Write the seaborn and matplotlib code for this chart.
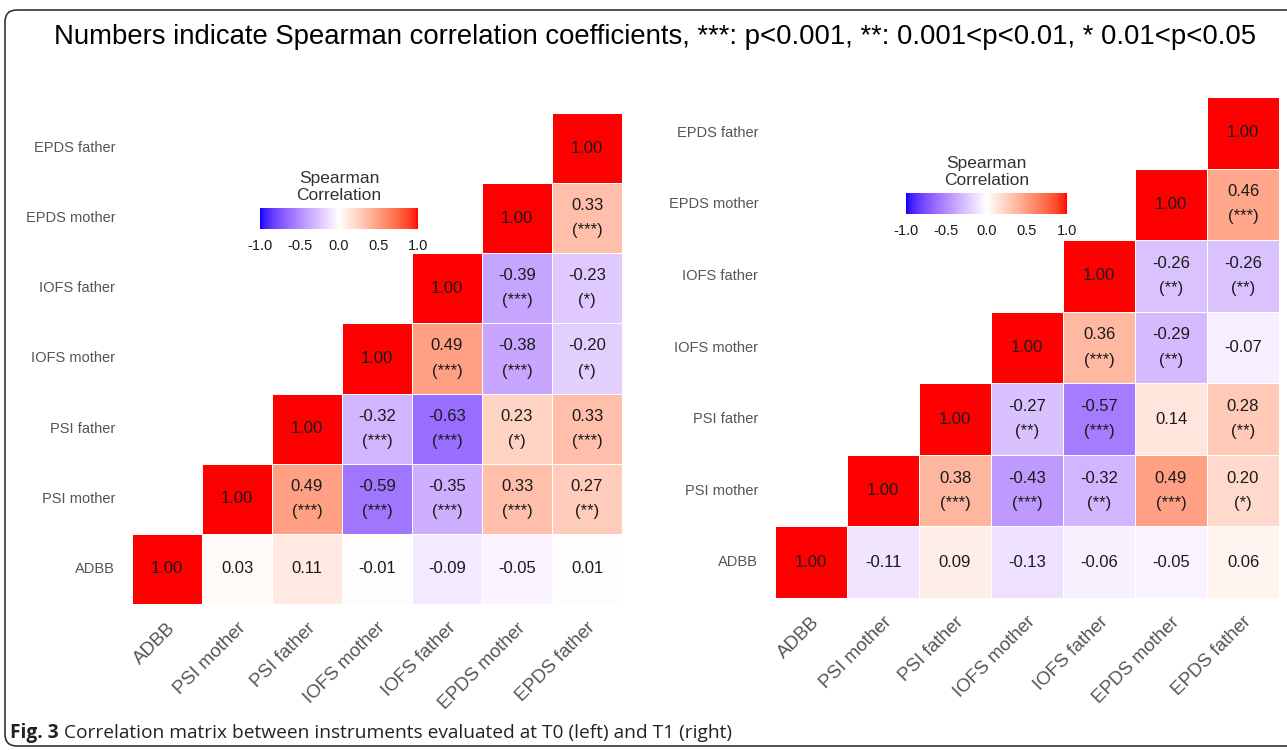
import numpy as np
import pandas as pd
import matplotlib
matplotlib.use("Agg")
import matplotlib.pyplot as plt
import seaborn as sns
from matplotlib.colors import ListedColormap
from matplotlib.patches import FancyBboxPatch
from matplotlib.transforms import IdentityTransform

# instruments, bottom-to-top on y and left-to-right on x
labels = ["ADBB", "PSI mother", "PSI father", "IOFS mother",
          "IOFS father", "EPDS mother", "EPDS father"]

# upper triangle, one list per row starting at the diagonal
t0_rho = [
    [1.00, 0.03, 0.11, -0.01, -0.09, -0.05, 0.01],
    [1.00, 0.49, -0.59, -0.35, 0.33, 0.27],
    [1.00, -0.32, -0.63, 0.23, 0.33],
    [1.00, 0.49, -0.38, -0.20],
    [1.00, -0.39, -0.23],
    [1.00, 0.33],
    [1.00],
]
t0_sig = [
    ["", "", "", "", "", "", ""],
    ["", "***", "***", "***", "***", "**"],
    ["", "***", "***", "*", "***"],
    ["", "***", "***", "*"],
    ["", "***", "*"],
    ["", "***"],
    [""],
]

t1_rho = [
    [1.00, -0.11, 0.09, -0.13, -0.06, -0.05, 0.06],
    [1.00, 0.38, -0.43, -0.32, 0.49, 0.20],
    [1.00, -0.27, -0.57, 0.14, 0.28],
    [1.00, 0.36, -0.29, -0.07],
    [1.00, -0.26, -0.26],
    [1.00, 0.46],
    [1.00],
]
t1_sig = [
    ["", "", "", "", "", "", ""],
    ["", "***", "***", "**", "***", "*"],
    ["", "**", "***", "", "**"],
    ["", "***", "**", ""],
    ["", "**", "**"],
    ["", "***"],
    [""],
]

title = ("Numbers indicate Spearman correlation coefficients, ***: p<0.001, "
         "**: 0.001<p<0.01, * 0.01<p<0.05")
caption_bold = "Fig. 3"
caption_rest = " Correlation matrix between instruments evaluated at T0 (left) and T1 (right)"


# blue - white - red gradient interpolated in Lab space (like ggplot's gradient2)
def to_lab(rgb):
    c = np.asarray(rgb, float)
    c = np.where(c <= 0.04045, c / 12.92, ((c + 0.055) / 1.055) ** 2.4)
    m = np.array([[0.4124, 0.3576, 0.1805],
                  [0.2126, 0.7152, 0.0722],
                  [0.0193, 0.1192, 0.9505]])
    xyz = m @ c / np.array([0.95047, 1.0, 1.08883])
    f = np.where(xyz > 0.008856, np.cbrt(xyz), 7.787 * xyz + 16 / 116)
    return np.array([116 * f[1] - 16, 500 * (f[0] - f[1]), 200 * (f[1] - f[2])])


def from_lab(lab):
    L, a, b = lab
    fy = (L + 16) / 116
    f = np.array([fy + a / 500, fy, fy - b / 200])
    xyz = np.where(f ** 3 > 0.008856, f ** 3, (f - 16 / 116) / 7.787)
    xyz = xyz * np.array([0.95047, 1.0, 1.08883])
    m = np.array([[3.2406, -1.5372, -0.4986],
                  [-0.9689, 1.8758, 0.0415],
                  [0.0557, -0.2040, 1.0570]])
    c = m @ xyz
    c = np.where(c <= 0.0031308, 12.92 * c, 1.055 * np.clip(c, 0, None) ** (1 / 2.4) - 0.055)
    return np.clip(c, 0, 1)


lab_blue, lab_white, lab_red = to_lab([0, 0, 1]), to_lab([1, 1, 1]), to_lab([1, 0, 0])
cols = []
for t in np.linspace(-1, 1, 256):
    if t < 0:
        lab = lab_white + (lab_blue - lab_white) * (-t)
    else:
        lab = lab_white + (lab_red - lab_white) * t
    cols.append(from_lab(lab))
cmap = ListedColormap(cols)


def build(rho, sig):
    n = len(labels)
    vals = np.full((n, n), np.nan)
    txt = np.full((n, n), "", dtype=object)
    for i, (r, s) in enumerate(zip(rho, sig)):
        for k, (v, st) in enumerate(zip(r, s)):
            j = i + k
            vals[i, j] = v
            txt[i, j] = f"{v:.2f}" + (f"\n({st})" if st else "")
    df = pd.DataFrame(vals, index=labels, columns=labels).iloc[::-1]
    return df, txt[::-1]


sns.set_theme(style="white")
plt.rcParams["font.family"] = ["Liberation Sans", "DejaVu Sans"]
plt.rcParams["axes.unicode_minus"] = False

W, H = 1287, 750
fig = plt.figure(figsize=(W / 100, H / 100), dpi=100)
fig.patch.set_facecolor("white")


def px(x0, y0, x1, y1):
    # pixel box (top-left origin) -> figure fraction rect
    return [x0 / W, 1 - y1 / H, (x1 - x0) / W, (y1 - y0) / H]


panels = [
    (t0_rho, t0_sig, px(132, 113, 622, 604), px(260, 208, 418, 229)),
    (t1_rho, t1_sig, px(775, 97, 1279, 598), px(906, 193, 1067, 214)),
]

for rho, sig, rect, cb_rect in panels:
    df, txt = build(rho, sig)
    ax = fig.add_axes(rect)
    cax = fig.add_axes(cb_rect)
    sns.heatmap(df, mask=df.isna(), cmap=cmap, vmin=-1, vmax=1,
                annot=txt, fmt="", linewidths=0.7, linecolor="white",
                annot_kws={"fontsize": 12, "color": "#1a1a1a", "linespacing": 1.85},
                cbar_ax=cax, cbar_kws={"orientation": "horizontal",
                                       "ticks": [-1, -0.5, 0, 0.5, 1]},
                ax=ax)
    ax.set_xlabel("")
    ax.set_ylabel("")
    ax.tick_params(length=0, colors="#555555", labelsize=10.5)
    ax.tick_params(axis="x", pad=11)
    ax.tick_params(axis="y", pad=12)
    plt.setp(ax.get_xticklabels(), rotation=45, ha="right", va="top",
             rotation_mode="anchor", fontsize=13.5)
    plt.setp(ax.get_yticklabels(), rotation=0)

    cb = ax.collections[0].colorbar
    cb.outline.set_visible(False)
    cax.set_xticklabels(["-1.0", "-0.5", "0.0", "0.5", "1.0"])
    cax.tick_params(axis="x", direction="in", length=3, width=1, color="white",
                    labelcolor="#1a1a1a", labelsize=10.5, pad=7,
                    top=True, bottom=True)
    cax.set_title("Spearman\nCorrelation", fontsize=12.5, color="#333333",
                  pad=6, linespacing=1.1)

fig.text(655 / W, 1 - 37 / H, title, ha="center", va="center", fontsize=19.8,
         color="black")

# caption at the bottom
renderer = fig.canvas.get_renderer()
cap1 = fig.text(10, 17, caption_bold, transform=IdentityTransform(),
                fontsize=13.8, fontweight="bold", family="Open Sans", color="#222222",
                va="center")
bb = cap1.get_window_extent(renderer)
fig.text(bb.x1, 17, caption_rest, transform=IdentityTransform(),
         fontsize=13.8, family="Open Sans", color="#222222", va="center")

frame = FancyBboxPatch((5, 4), 1320, 736, boxstyle="round,pad=0,rounding_size=12",
                       transform=IdentityTransform(), facecolor="none",
                       edgecolor="#333333", linewidth=1.2)
fig.patches.append(frame)

fig.savefig("out.png", dpi=100)
